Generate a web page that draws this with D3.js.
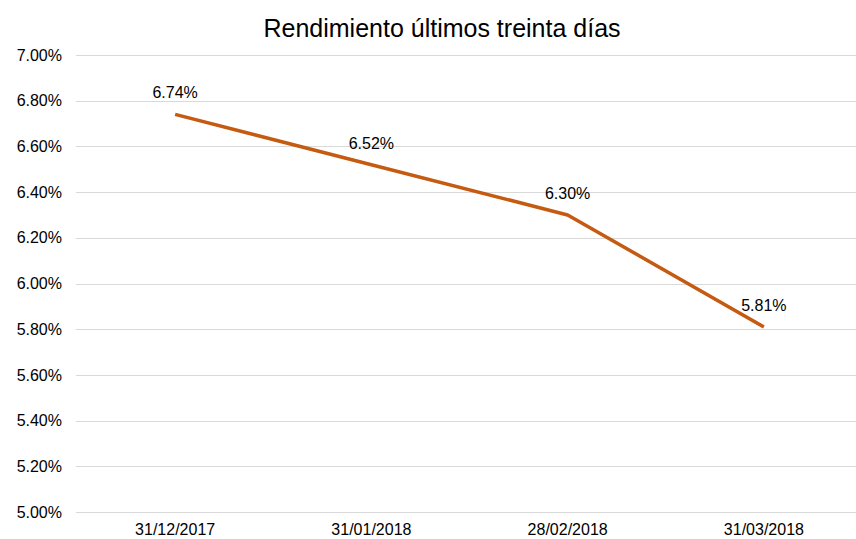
<!DOCTYPE html>
<html>
<head>
<meta charset="utf-8">
<script src="https://cdn.jsdelivr.net/npm/d3@7.9.0/dist/d3.min.js"></script>
<style>
  body { margin: 0; background: #fff; }
  svg { display: block; font-family: "Liberation Sans", Arial, sans-serif; }
</style>
</head>
<body>
<div id="chart"></div>
<script>
const dates = ['31/12/2017', '31/01/2018', '28/02/2018', '31/03/2018'];
const rendimiento = [6.74, 6.52, 6.30, 5.81];
const yTicks = [5.0, 5.2, 5.4, 5.6, 5.8, 6.0, 6.2, 6.4, 6.6, 6.8, 7.0];

const width = 856;
const height = 539;

const svg = d3.select('#chart')
  .append('svg')
  .attr('width', width)
  .attr('height', height);

const xScale = d3.scaleBand()
  .domain(dates)
  .range([77, 862])
  .padding(0);

const yScale = d3.scaleLinear()
  .domain([5, 7])
  .range([512, 55]);

// gridlines
svg.append('g')
  .attr('class', 'gridlines')
  .selectAll('line')
  .data(yTicks)
  .join('line')
  .attr('x1', 76)
  .attr('x2', width)
  .attr('y1', d => Math.round(yScale(d)) + 0.5)
  .attr('y2', d => Math.round(yScale(d)) + 0.5)
  .attr('stroke', '#d9d9d9')
  .attr('stroke-width', 1);

// y axis labels
const yAxis = d3.axisLeft(yScale)
  .tickValues(yTicks)
  .tickFormat(d => d.toFixed(2) + '%')
  .tickSize(0)
  .tickPadding(0);

const gy = svg.append('g')
  .attr('transform', 'translate(62,0)')
  .call(yAxis);
gy.select('.domain').remove();
gy.selectAll('text')
  .attr('font-size', 16)
  .attr('font-family', '"Liberation Sans", Arial, sans-serif')
  .attr('fill', '#000');

// x axis labels
const xAxis = d3.axisBottom(xScale).tickSize(0).tickPadding(0);
const gx = svg.append('g')
  .attr('transform', 'translate(0,524)')
  .call(xAxis);
gx.select('.domain').remove();
gx.selectAll('text')
  .attr('font-size', 16)
  .attr('font-family', '"Liberation Sans", Arial, sans-serif')
  .attr('fill', '#000');

// line
const line = d3.line()
  .x((d, i) => xScale(dates[i]) + xScale.bandwidth() / 2)
  .y(d => yScale(d));

svg.append('path')
  .datum(rendimiento)
  .attr('d', line)
  .attr('fill', 'none')
  .attr('stroke', '#c55a11')
  .attr('stroke-width', 3.5)
  .attr('stroke-linejoin', 'round');

// data labels
svg.append('g')
  .selectAll('text')
  .data(rendimiento)
  .join('text')
  .attr('x', (d, i) => xScale(dates[i]) + xScale.bandwidth() / 2)
  .attr('y', d => yScale(d) - 16)
  .attr('text-anchor', 'middle')
  .attr('font-size', 16)
  .attr('fill', '#000')
  .text(d => d.toFixed(2) + '%');

// title
svg.append('text')
  .attr('x', 442)
  .attr('y', 37)
  .attr('text-anchor', 'middle')
  .attr('font-size', 25)
  .attr('fill', '#000')
  .text('Rendimiento últimos treinta días');
</script>
</body>
</html>
